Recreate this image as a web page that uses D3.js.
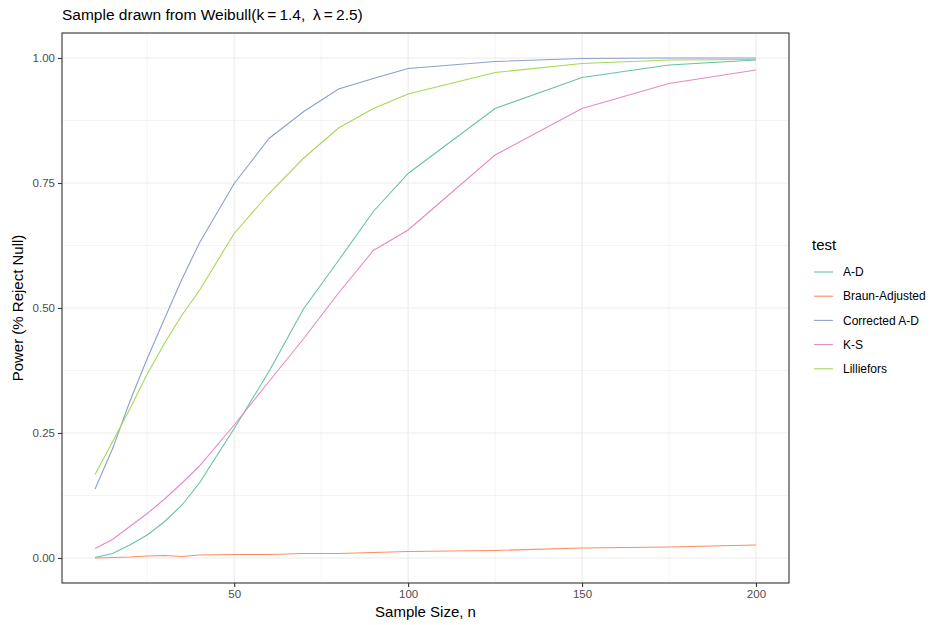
<!DOCTYPE html>
<html>
<head>
<meta charset="utf-8">
<script src="https://cdn.jsdelivr.net/npm/d3@7"></script>
<style>
  body { margin: 0; background: #fff; }
  svg { display: block; font-family: "Liberation Sans", Arial, sans-serif; }
</style>
</head>
<body>
<svg id="chart" width="935" height="625"></svg>
<script>
// Sample sizes and power estimates for each goodness-of-fit test
const sampleSizes = [10, 15, 20, 25, 30, 35, 40, 50, 60, 70, 80, 90, 100, 125, 150, 175, 200];
const testNames = ["A-D", "Braun-Adjusted", "Corrected A-D", "K-S", "Lilliefors"];
const powerAD         = [0.001, 0.009, 0.026, 0.046, 0.073, 0.106, 0.150, 0.259, 0.373, 0.499, 0.595, 0.693, 0.769, 0.899, 0.961, 0.986, 0.996];
const powerBraun      = [0.000, 0.001, 0.002, 0.004, 0.005, 0.003, 0.006, 0.007, 0.007, 0.009, 0.009, 0.011, 0.013, 0.015, 0.020, 0.022, 0.026];
const powerCorrected  = [0.138, 0.218, 0.313, 0.399, 0.479, 0.558, 0.630, 0.749, 0.839, 0.893, 0.938, 0.959, 0.979, 0.993, 0.999, 1.000, 1.000];
const powerKS         = [0.019, 0.037, 0.063, 0.089, 0.118, 0.150, 0.184, 0.266, 0.353, 0.439, 0.530, 0.615, 0.656, 0.806, 0.899, 0.949, 0.976];
const powerLilliefors = [0.167, 0.232, 0.298, 0.368, 0.430, 0.486, 0.535, 0.649, 0.729, 0.800, 0.860, 0.899, 0.928, 0.971, 0.989, 0.996, 0.997];
const xTicks = [50, 100, 150, 200];
const yTicks = [0, 0.25, 0.5, 0.75, 1];
const colors = ["#66C2A5", "#FC8D62", "#8DA0CB", "#E78AC3", "#A6D854"];

const seriesValues = [powerAD, powerBraun, powerCorrected, powerKS, powerLilliefors];
const series = testNames.map((name, i) => ({
  name, color: colors[i],
  points: sampleSizes.map((n, j) => ({ n, p: seriesValues[i][j] }))
}));

const svg = d3.select("#chart");
const panel = { left: 62, right: 789, top: 33, bottom: 583 };

const x = d3.scaleLinear().domain([0.5, 209.5]).range([panel.left, panel.right]);
const y = d3.scaleLinear().domain([-0.05, 1.05]).range([panel.bottom, panel.top]);

// Panel background
svg.append("rect")
  .attr("x", panel.left).attr("y", panel.top)
  .attr("width", panel.right - panel.left).attr("height", panel.bottom - panel.top)
  .attr("fill", "#fff");

// Minor grid lines (midway between major breaks)
const xMinor = [25, 75, 125, 175];
const yMinor = [0.125, 0.375, 0.625, 0.875];
const grid = svg.append("g");
grid.selectAll(".xmin").data(xMinor).join("line")
  .attr("x1", d => x(d)).attr("x2", d => x(d))
  .attr("y1", panel.top).attr("y2", panel.bottom)
  .attr("stroke", "#EBEBEB").attr("stroke-width", 0.6);
grid.selectAll(".ymin").data(yMinor).join("line")
  .attr("y1", d => y(d)).attr("y2", d => y(d))
  .attr("x1", panel.left).attr("x2", panel.right)
  .attr("stroke", "#EBEBEB").attr("stroke-width", 0.6);
// Major grid lines
grid.selectAll(".xmaj").data(xTicks).join("line")
  .attr("x1", d => x(d)).attr("x2", d => x(d))
  .attr("y1", panel.top).attr("y2", panel.bottom)
  .attr("stroke", "#EBEBEB").attr("stroke-width", 1.1);
grid.selectAll(".ymaj").data(yTicks).join("line")
  .attr("y1", d => y(d)).attr("y2", d => y(d))
  .attr("x1", panel.left).attr("x2", panel.right)
  .attr("stroke", "#EBEBEB").attr("stroke-width", 1.1);

// Series lines
const line = d3.line().x(d => x(d.n)).y(d => y(d.p));
svg.append("g").selectAll("path").data(series).join("path")
  .attr("d", d => line(d.points))
  .attr("fill", "none")
  .attr("stroke", d => d.color)
  .attr("stroke-width", 1.1);

// Panel border
svg.append("rect")
  .attr("x", panel.left).attr("y", panel.top)
  .attr("width", panel.right - panel.left).attr("height", panel.bottom - panel.top)
  .attr("fill", "none").attr("stroke", "#333333").attr("stroke-width", 1.1);

// Axes
const xAxis = svg.append("g")
  .attr("transform", `translate(0,${panel.bottom})`)
  .call(d3.axisBottom(x).tickValues(xTicks).tickFormat(d3.format("d")).tickSize(4).tickPadding(3));
const yAxis = svg.append("g")
  .attr("transform", `translate(${panel.left},0)`)
  .call(d3.axisLeft(y).tickValues(yTicks).tickFormat(d3.format(".2f")).tickSize(4).tickPadding(3));
[xAxis, yAxis].forEach(a => {
  a.select(".domain").remove();
  a.selectAll(".tick line").attr("stroke", "#333333").attr("stroke-width", 1.1);
  a.selectAll(".tick text").attr("fill", "#4D4D4D")
    .style("font-size", "11.5px").style("font-family", "'Liberation Sans', Arial, sans-serif");
});

// Title and axis titles
svg.append("text")
  .attr("x", panel.left).attr("y", 20)
  .attr("fill", "#000").style("font-size", "15.5px")
  .text("Sample drawn from Weibull(k\u2009=\u20091.4,\u2002\u03BB\u2009=\u20092.5)");
svg.append("text")
  .attr("x", (panel.left + panel.right) / 2).attr("y", 617)
  .attr("text-anchor", "middle").style("font-size", "15px")
  .text("Sample Size, n");
svg.append("text")
  .attr("transform", `translate(23,${(panel.top + panel.bottom) / 2}) rotate(-90)`)
  .attr("text-anchor", "middle").style("font-size", "15px")
  .text("Power (% Reject Null)");

// Legend
const legend = svg.append("g").attr("transform", "translate(812,0)");
legend.append("text").attr("x", 0).attr("y", 250)
  .style("font-size", "15px").text("test");
const item = legend.selectAll(".item").data(series).join("g")
  .attr("transform", (d, i) => `translate(0,${272 + i * 24.2})`);
item.append("line").attr("x1", 2).attr("x2", 21).attr("y1", 0).attr("y2", 0)
  .attr("stroke", d => d.color).attr("stroke-width", 1.1);
item.append("text").attr("x", 31).attr("y", 0).attr("dy", "0.35em")
  .style("font-size", "12px").attr("fill", "#000").text(d => d.name);
</script>
</body>
</html>
